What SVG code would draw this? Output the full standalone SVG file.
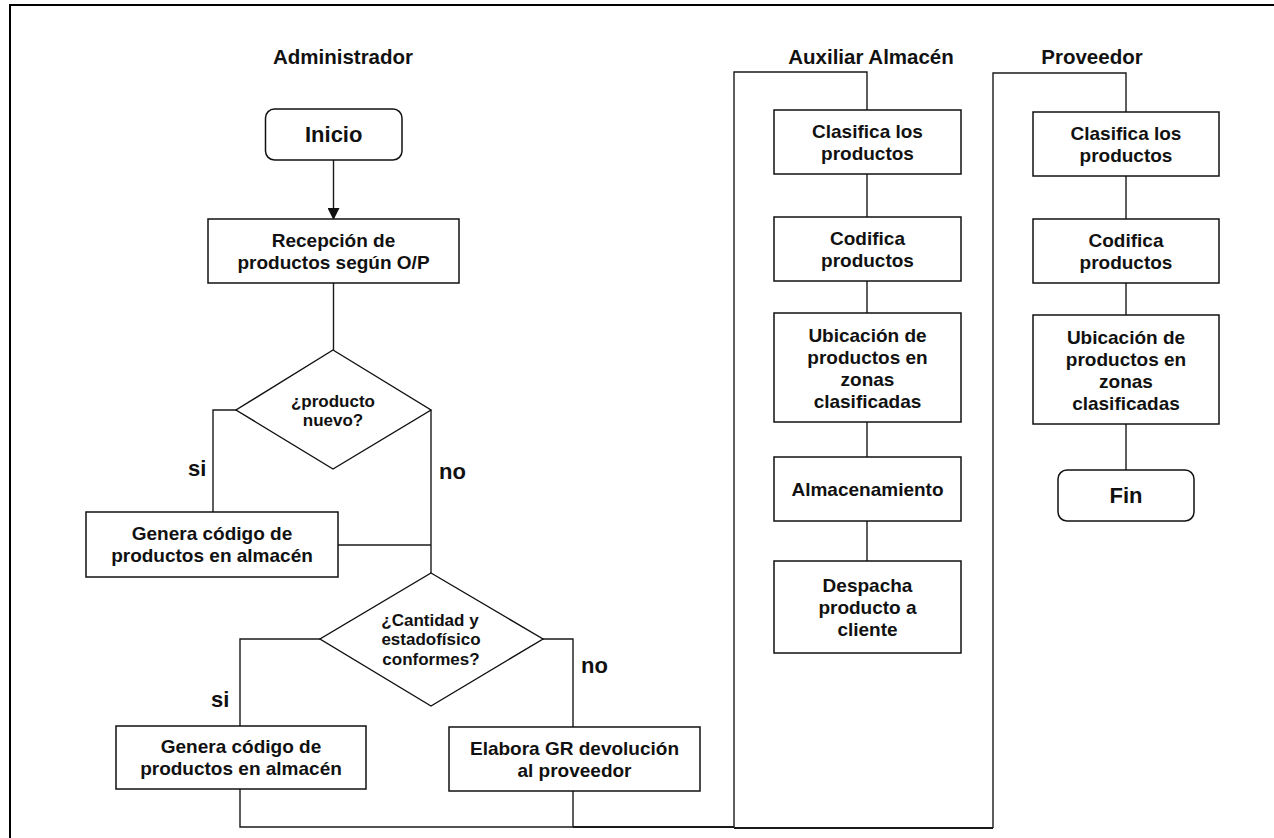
<svg xmlns="http://www.w3.org/2000/svg" width="1274" height="838" viewBox="0 0 1274 838">
  <style>
    .box { fill: #fff; stroke: #111; stroke-width: 1.5; }
    .term { fill: #fff; stroke: #111; stroke-width: 1.5; }
    .dec { fill: #fff; stroke: #111; stroke-width: 1.4; }
    .ln { fill: none; stroke: #1a1a1a; stroke-width: 1.4; }
    .lnb { fill: none; stroke: #1a1a1a; stroke-width: 2.2; }
    .frame { fill: none; stroke: #000; stroke-width: 2; }
    text { font-family: "Liberation Sans", Arial, sans-serif; font-weight: bold; fill: #111; text-anchor: middle; }
    .t { font-size: 19px; }
    .d { font-size: 17px; }
    .h { font-size: 20.5px; }
    .big { font-size: 22px; }
    .lbl { font-size: 22px; text-anchor: start; }
  </style>
  <defs>
    <marker id="arrow" markerWidth="12" markerHeight="12" refX="11" refY="6" orient="auto" markerUnits="userSpaceOnUse">
      <path d="M0,0 L12,6 L0,12 Z" fill="#111"/>
    </marker>
  </defs>

  <rect width="1274" height="838" fill="#fff"/>
  <path class="frame" d="M10,838 V5 H1274"/>

  <!-- lane headings -->
  <g id="headings">
    <text class="h" x="343" y="64">Administrador</text>
    <text class="h" x="871" y="64">Auxiliar Almacén</text>
    <text class="h" x="1092" y="64">Proveedor</text>
  </g>

  <!-- connectors -->
  <g id="connectors">
    <line class="ln" x1="333.5" y1="160" x2="333.5" y2="219" marker-end="url(#arrow)"/>
    <line class="ln" x1="333.5" y1="283" x2="333.5" y2="350"/>
    <path class="ln" d="M236,410 H213 V512"/>
    <path class="ln" d="M431,410 V573"/>
    <path class="ln" d="M338,545 H431"/>
    <path class="ln" d="M320,639 H240 V726"/>
    <path class="ln" d="M543,639 H573 V727"/>
    <path class="ln" d="M240,789 V827 H573"/>
    <path class="ln" d="M573,791 V827"/>
    <path class="lnb" d="M573,827 H734"/>
    <path class="ln" d="M734,828 V72 H867 V110"/>
    <path class="lnb" d="M734,828 H993"/>
    <path class="ln" d="M993,828 V73 H1126 V112"/>
    <path class="ln" d="M867,174 V217 M867,281 V313 M867,422 V457 M867,521 V561"/>
    <path class="ln" d="M1126,176 V219 M1126,283 V315 M1126,424 V470"/>
  </g>

  <!-- Administrador lane -->
  <g id="inicio">
    <rect class="term" x="265.5" y="109" width="136.5" height="51" rx="9"/>
    <text class="big" x="333.7" y="142">Inicio</text>
  </g>
  <g id="recepcion">
    <rect class="box" x="208" y="219" width="251" height="64"/>
    <text class="t" x="333.5" y="247">Recepción de</text>
    <text class="t" x="333.5" y="269">productos según O/P</text>
  </g>
  <g id="producto-nuevo">
    <polygon class="dec" points="333,350 431,410 333,469 236,410"/>
    <text class="d" x="333" y="407">¿producto</text>
    <text class="d" x="333" y="426">nuevo?</text>
  </g>
  <g id="lbl-si-1"><text class="lbl" x="188" y="476">si</text></g>
  <g id="lbl-no-1"><text class="lbl" x="439" y="479">no</text></g>
  <g id="genera-1">
    <rect class="box" x="86" y="512" width="252" height="65"/>
    <text class="t" x="212" y="540">Genera código de</text>
    <text class="t" x="212" y="562">productos en almacén</text>
  </g>
  <g id="cantidad">
    <polygon class="dec" points="431,573 543,639 431,706 320,639"/>
    <text class="d" x="430" y="626">¿Cantidad y</text>
    <text class="d" x="431" y="645">estadofísico</text>
    <text class="d" x="431" y="665">conformes?</text>
  </g>
  <g id="lbl-si-2"><text class="lbl" x="211" y="707">si</text></g>
  <g id="lbl-no-2"><text class="lbl" x="581" y="673">no</text></g>
  <g id="genera-2">
    <rect class="box" x="116" y="726" width="250" height="63"/>
    <text class="t" x="241" y="753">Genera código de</text>
    <text class="t" x="241" y="775">productos en almacén</text>
  </g>
  <g id="elabora">
    <rect class="box" x="449" y="727" width="251" height="64"/>
    <text class="t" x="574.5" y="755">Elabora GR devolución</text>
    <text class="t" x="574.5" y="777">al proveedor</text>
  </g>

  <!-- Auxiliar Almacén lane -->
  <g id="aux-clasifica">
    <rect class="box" x="774" y="110" width="187" height="64"/>
    <text class="t" x="867.5" y="138">Clasifica los</text>
    <text class="t" x="867.5" y="160">productos</text>
  </g>
  <g id="aux-codifica">
    <rect class="box" x="774" y="217" width="187" height="64"/>
    <text class="t" x="867.5" y="245">Codifica</text>
    <text class="t" x="867.5" y="267">productos</text>
  </g>
  <g id="aux-ubicacion">
    <rect class="box" x="774" y="313" width="187" height="109"/>
    <text class="t" x="867.5" y="342">Ubicación de</text>
    <text class="t" x="867.5" y="364">productos en</text>
    <text class="t" x="867.5" y="386">zonas</text>
    <text class="t" x="867.5" y="408">clasificadas</text>
  </g>
  <g id="aux-almacenamiento">
    <rect class="box" x="774" y="457" width="187" height="64"/>
    <text class="t" x="867.5" y="496">Almacenamiento</text>
  </g>
  <g id="aux-despacha">
    <rect class="box" x="774" y="561" width="187" height="92"/>
    <text class="t" x="867.5" y="592">Despacha</text>
    <text class="t" x="867.5" y="614">producto a</text>
    <text class="t" x="867.5" y="636">cliente</text>
  </g>

  <!-- Proveedor lane -->
  <g id="prov-clasifica">
    <rect class="box" x="1033" y="112" width="186" height="64"/>
    <text class="t" x="1126" y="140">Clasifica los</text>
    <text class="t" x="1126" y="162">productos</text>
  </g>
  <g id="prov-codifica">
    <rect class="box" x="1033" y="219" width="186" height="64"/>
    <text class="t" x="1126" y="247">Codifica</text>
    <text class="t" x="1126" y="269">productos</text>
  </g>
  <g id="prov-ubicacion">
    <rect class="box" x="1033" y="315" width="186" height="109"/>
    <text class="t" x="1126" y="344">Ubicación de</text>
    <text class="t" x="1126" y="366">productos en</text>
    <text class="t" x="1126" y="388">zonas</text>
    <text class="t" x="1126" y="410">clasificadas</text>
  </g>
  <g id="fin">
    <rect class="term" x="1058" y="470" width="136" height="51" rx="9"/>
    <text class="big" x="1126" y="503">Fin</text>
  </g>
</svg>
